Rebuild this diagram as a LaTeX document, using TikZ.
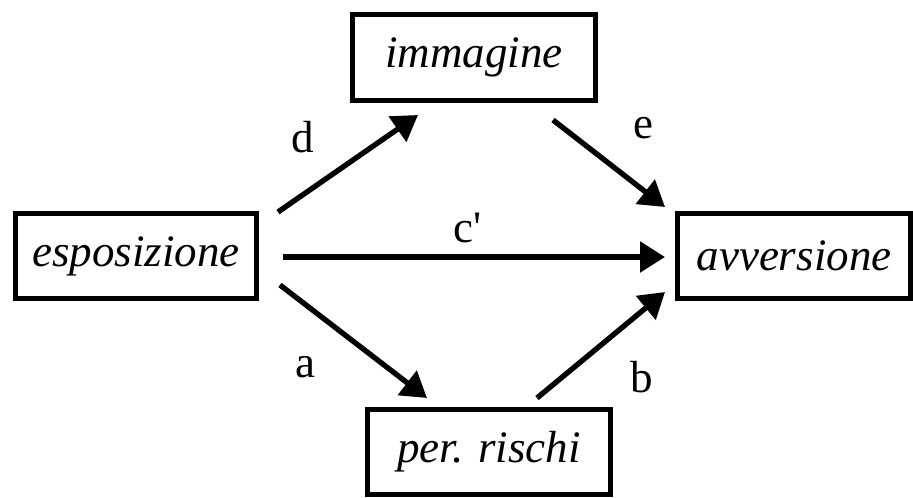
\documentclass[tikz,border=0pt]{standalone}
\usepackage{fontspec}
\setmainfont{Liberation Serif}
\usetikzlibrary{positioning, arrows.meta}

\begin{document}
\begin{tikzpicture}[x=0.75pt, y=-0.75pt, on grid, line width=4pt,
		box/.style={draw, line width=4pt, inner sep=0pt, minimum width=182pt, minimum height=63.5pt, font=\fontsize{33.75}{40}\selectfont\itshape},
		lab/.style={inner sep=0pt, font=\fontsize{33.75}{40}\selectfont},
		>={Triangle[length=18.75pt, width=22.5pt]}]
			\useasboundingbox (0,0) rectangle (913,497);

			\node[box, minimum width=180.5pt] (0) at (136,256) {esposizione};
			\node[box, above right=148.875pt and 253.5pt of 0, minimum height=64.25pt] (1) {immagine};
			\node[box, right=493.5pt of 0, minimum width=174.5pt] (2) {avversione};
			\node[box, below right=147pt and 264.75pt of 0] (3) {per. rischi};

			\draw[->] ([shift={(19,1)}]0.north east) -- node[lab, shift={(-45,-26)}] {d} ([shift={(68,12)}]1.south west);
			\draw[->] ([shift={(-45,17)}]1.south east) -- node[lab, shift={(34,-35)}] {e} ([shift={(-10,-4)}]2.north west);
			\draw[->] ([shift={(24,1)}]0.east) -- node[lab, shift={(-6,-29)}] {c\textquotesingle} ([shift={(-10,1)}]2.west);
			\draw[->] ([shift={(21,-16)}]0.south east) -- node[lab, shift={(-48,26)}] {a} ([shift={(62,-9)}]3.north west);
			\draw[->] ([shift={(-76,-9)}]3.north east) -- node[lab, shift={(41,32)}] {b} ([shift={(-10,-9)}]2.south west);

		\end{tikzpicture}
\end{document}
